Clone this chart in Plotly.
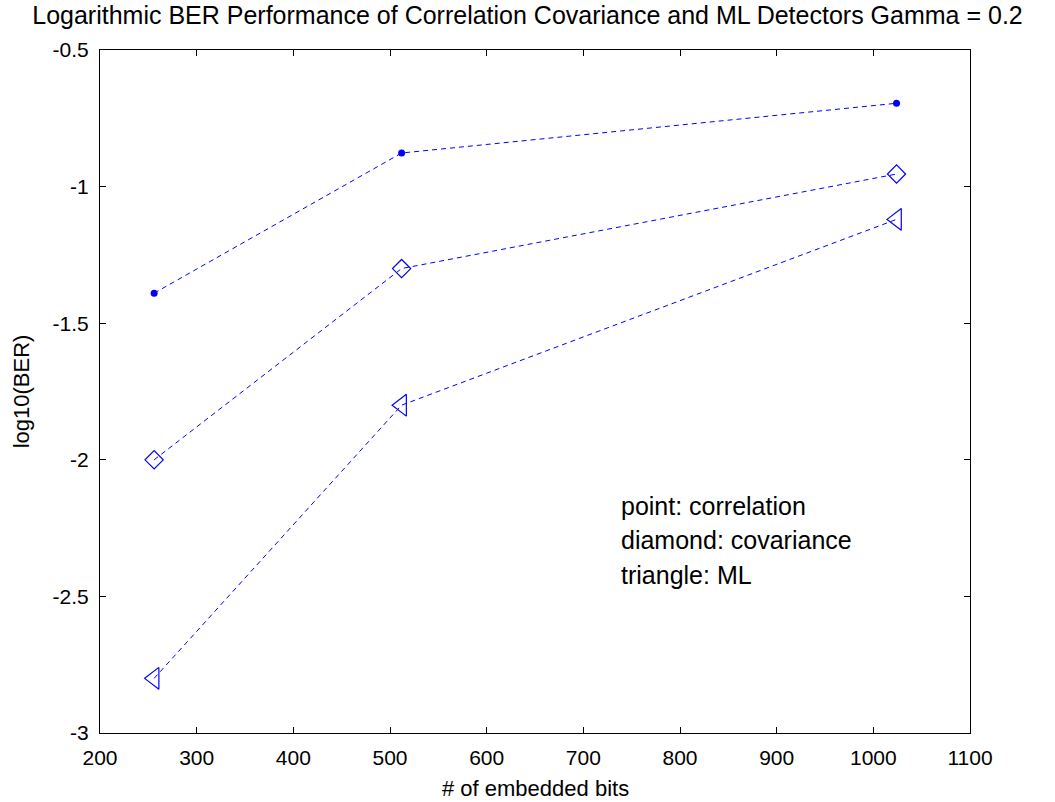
import plotly.graph_objects as go

# Number of embedded bits
bits = [256, 512, 1024]

# log10(BER) for each detector
ber_correlation = [-1.39, -0.877, -0.695]
ber_covariance = [-2.0, -1.30, -0.954]
ber_ml = [-2.80, -1.80, -1.12]

x_ticks = [200, 300, 400, 500, 600, 700, 800, 900, 1000, 1100]
y_ticks = [-3, -2.5, -2, -1.5, -1, -0.5]
y_tick_text = ["-3", "-2.5", "-2", "-1.5", "-1", "-0.5"]

notes = ["point: correlation", "diamond: covariance", "triangle: ML"]
note_y = [-2.17, -2.295, -2.42]

blue = "rgb(0,0,255)"
font_family = "Liberation Sans, Arial, sans-serif"

fig = go.Figure()

series = [
    (ber_correlation, dict(symbol="circle", size=7, color=blue)),
    (ber_covariance, dict(symbol="diamond-open", size=14, color=blue, line=dict(width=1.2, color=blue))),
    (ber_ml, dict(symbol="triangle-left-open", size=19, color=blue, line=dict(width=1.2, color=blue))),
]
for values, marker in series:
    fig.add_trace(go.Scatter(
        x=bits, y=values, mode="lines+markers",
        line=dict(color=blue, width=1, dash="5px,4px"),
        marker=marker, showlegend=False,
    ))

for text, y in zip(notes, note_y):
    fig.add_annotation(x=737, y=y, xref="x", yref="y", text=text, showarrow=False,
                       xanchor="left", yanchor="middle",
                       font=dict(family=font_family, size=25, color="black"))

# x-axis title drawn below the tick labels
fig.add_annotation(x=0.5, y=0, xref="paper", yref="paper", yshift=-55,
                   text="# of embedded bits", showarrow=False,
                   xanchor="center", yanchor="middle",
                   font=dict(family=font_family, size=22, color="black"))

axis_common = dict(
    showline=True, linecolor="black", linewidth=1, mirror="ticks",
    ticks="inside", ticklen=6, tickcolor="black", tickwidth=1,
    showgrid=False, zeroline=False,
    tickfont=dict(family=font_family, size=21, color="black"),
)

fig.update_xaxes(range=[200, 1100], tickvals=x_ticks, ticktext=[str(v) for v in x_ticks],
                 ticklabelstandoff=6, automargin=False,
                 **axis_common)
fig.update_yaxes(range=[-3, -0.5], tickvals=y_ticks, ticktext=y_tick_text,
                 ticklabelstandoff=6,
                 title=dict(text="log10(BER)", standoff=16,
                            font=dict(family=font_family, size=22, color="black")),
                 **axis_common)

fig.update_layout(
    width=1055, height=802,
    paper_bgcolor="white", plot_bgcolor="white",
    margin=dict(l=100, r=85, t=50, b=69),
    title=dict(text="Logarithmic BER Performance of Correlation Covariance and ML Detectors Gamma = 0.2",
               x=0.5, xanchor="center", y=0.992, yanchor="top",
               font=dict(family=font_family, size=25, color="black")),
)

fig.write_html("out.html")
